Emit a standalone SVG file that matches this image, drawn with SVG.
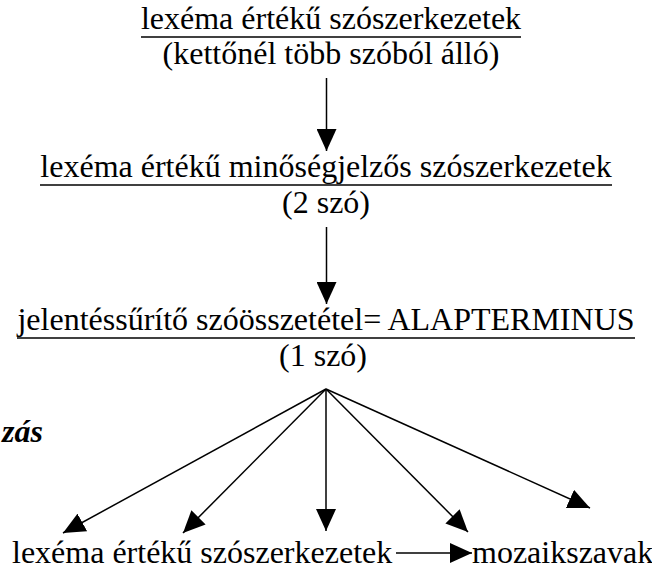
<svg xmlns="http://www.w3.org/2000/svg" width="652" height="570" viewBox="0 0 652 570">
  <style>
    .t { font-family: "Liberation Serif", "Times New Roman", serif; font-size: 32px; fill: #000; }
    .c { text-anchor: middle; }
    .bi { font-weight: bold; font-style: italic; }
    .ul { stroke: #000; stroke-width: 1.5; }
    .ar { stroke: #000; stroke-width: 1.5; fill: none; marker-end: url(#ah); }
  </style>
  <defs>
    <marker id="ah" viewBox="0 0 22 20" markerWidth="22" markerHeight="20" refX="22" refY="10" orient="auto" markerUnits="userSpaceOnUse">
      <path d="M0,0 L22,10 L0,20 z" fill="#000"/>
    </marker>
  </defs>
  <rect width="652" height="570" fill="#fff"/>

  <g id="n1">
    <text class="t c" x="331" y="29">lexéma értékű szószerkezetek</text>
    <line class="ul" x1="141" y1="37" x2="521" y2="37"/>
    <text class="t c" x="331" y="64">(kettőnél több szóból álló)</text>
  </g>
  <g id="n2">
    <text class="t c" x="326" y="177">lexéma értékű minőségjelzős szószerkezetek</text>
    <line class="ul" x1="40" y1="185" x2="612" y2="185"/>
    <text class="t c" x="326" y="213">(2 szó)</text>
  </g>
  <g id="n3">
    <text class="t c" x="326" y="330">jelentéssűrítő szóösszetétel= ALAPTERMINUS</text>
    <line class="ul" x1="17" y1="338" x2="635" y2="338"/>
    <text class="t c" x="323" y="366">(1 szó)</text>
  </g>
  <g id="n4">
    <text class="t bi" x="2" y="442">zás</text>
  </g>
  <g id="n5">
    <text class="t" x="12" y="563">lexéma értékű szószerkezetek</text>
  </g>
  <g id="n6">
    <text class="t" x="472" y="563">mozaikszavak</text>
  </g>

  <g id="connectors">
    <line class="ar" x1="326.5" y1="78" x2="326.5" y2="151"/>
    <line class="ar" x1="326.5" y1="227" x2="326.5" y2="304"/>
    <line class="ar" x1="326" y1="389" x2="63" y2="533"/>
    <line class="ar" x1="326" y1="389" x2="183" y2="533"/>
    <line class="ar" x1="326" y1="389" x2="326" y2="531"/>
    <line class="ar" x1="326" y1="389" x2="468" y2="532"/>
    <line class="ar" x1="326" y1="389" x2="590" y2="508"/>
    <line class="ar" x1="396" y1="553" x2="472" y2="553"/>
  </g>
</svg>
